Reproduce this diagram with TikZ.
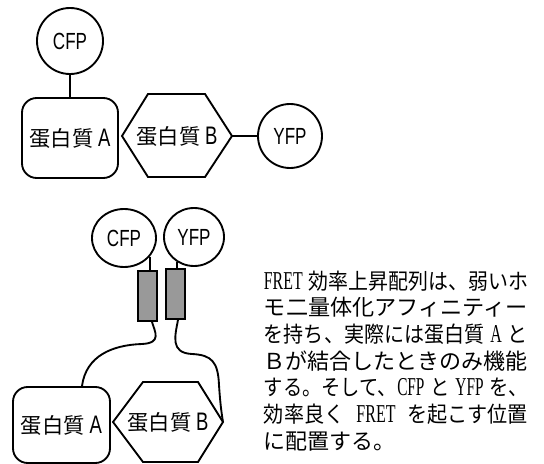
\documentclass[tikz,border=0pt]{standalone}
\usepackage{fontspec}
\usepackage{graphicx}
\usetikzlibrary{shapes.geometric,calc}
\newfontfamily\jp{Noto Sans CJK JP}
\newfontfamily\lsans[FakeStretch=0.73]{Liberation Sans}
\newfontfamily\lserif[FakeStretch=0.68]{Liberation Serif}
\newcommand\LatS[1]{{\lsans\fontsize{19pt}{20pt}\selectfont #1}}
\newcommand\LatR[1]{{\lserif\fontsize{19.3pt}{20pt}\selectfont #1}}
\newcommand\gap{\hspace{5pt}}
\definecolor{rectgray}{HTML}{999999}
\begin{document}
\begin{tikzpicture}[x=0.75pt,y=-0.75pt,line width=1.4pt,
  lbl/.style={inner sep=0pt,font=\jp\fontsize{16pt}{18pt}\selectfont},
  fp/.style={draw,ellipse,inner sep=0pt,font=\lsans\fontsize{17.5pt}{18pt}\selectfont},
  protA/.style={draw,rectangle,rounded corners=11pt,inner sep=0pt,font=\jp\fontsize{16pt}{18pt}\selectfont},
  link/.style={draw,fill=rectgray,minimum width=14.25pt,minimum height=37.5pt,inner sep=0pt},
  txt/.style={anchor=west,inner sep=0pt,font=\jp\fontsize{16.5pt}{20pt}\selectfont,text height=14pt,text depth=3pt}]
\useasboundingbox (0,0) rectangle (544,464);

% ---- top: separate proteins ----
\node[fp,minimum width=49.5pt,minimum height=49.5pt] (cfp1) at (70,41) {CFP};
\node[protA,minimum width=72pt,minimum height=60pt] (a1) at (70,138) {蛋白質 \LatS{A}};
\node[lbl] (b1) at (177,136) {蛋白質 \LatS{B}};
\draw (122,136) coordinate (b1w) -- (148,94) -- (205,94) -- (232,136) coordinate (b1e)
      -- (205,177) -- (148,177) -- cycle;
\node[fp,minimum width=48pt,minimum height=48pt] (yfp1) at (290,136) {YFP};
\draw (cfp1) -- (a1);
\draw (b1e) -- (yfp1);

% ---- bottom: bound complex ----
\node[fp,minimum width=48pt,minimum height=43.5pt] (cfp2) at (124,238) {CFP};
\node[fp,minimum width=45pt,minimum height=43.5pt] (yfp2) at (194,237) {YFP};
\node[link] (r1) at (147.5,296) {};
\node[link] (r2) at (175.5,294) {};
\draw (cfp2.-36) -- (cfp2.-36 |- r1.north);
\draw (yfp2.-125) -- (yfp2.-125 |- r2.north);

\node[protA,minimum width=72.75pt,minimum height=57pt] (a2) at (61.5,425) {蛋白質 \LatS{A}};
\node[lbl] (b2) at (168,422) {蛋白質 \LatS{B}};
\draw (113,422) coordinate (b2w) -- (143,382) -- (198,382) -- (223,422) coordinate (b2e)
      -- (198,462) -- (143,462) -- cycle;

\draw ($(r1.south)+(4.5,0)$) .. controls (155,332) and (162,343) .. (142,344)
      .. controls (112,345) and (86,356) .. ($(a2.north)+(20.5,0)$);
\draw ($(r2.south)+(2.5,0)$) .. controls (175,336) and (170,353) .. (192,354)
      .. controls (212,355) and (218,362) .. (219,385)
      .. controls (220,400) and (221,410) .. (b2e);

% ---- explanatory text ----
\node[txt] (t1) at (263,282) {\resizebox{198pt}{\height}{\LatR{FRET}\gap 効率上昇配列は、弱いホ}};
\node[txt] (t2) at (263,308.5) {\resizebox{198pt}{\height}{モ二量体化アフィニティー}};
\node[txt] (t3) at (263,335) {\resizebox{198pt}{\height}{を持ち、実際には蛋白質\gap\LatR{A}\gap と}};
\node[txt] (t4) at (263,362) {\resizebox{198pt}{\height}{Ｂが結合したときのみ機能}};
\node[txt] (t5) at (263,388) {\resizebox{198pt}{\height}{する。そして、\LatR{CFP}\gap と\gap\LatR{YFP}\gap を、}};
\node[txt] (t6) at (263,415) {\resizebox{198pt}{\height}{効率良く\gap\gap\LatR{FRET}\gap\gap を起こす位置}};
\node[txt] (t7) at (263,442) {に配置する。};
\end{tikzpicture}
\end{document}
